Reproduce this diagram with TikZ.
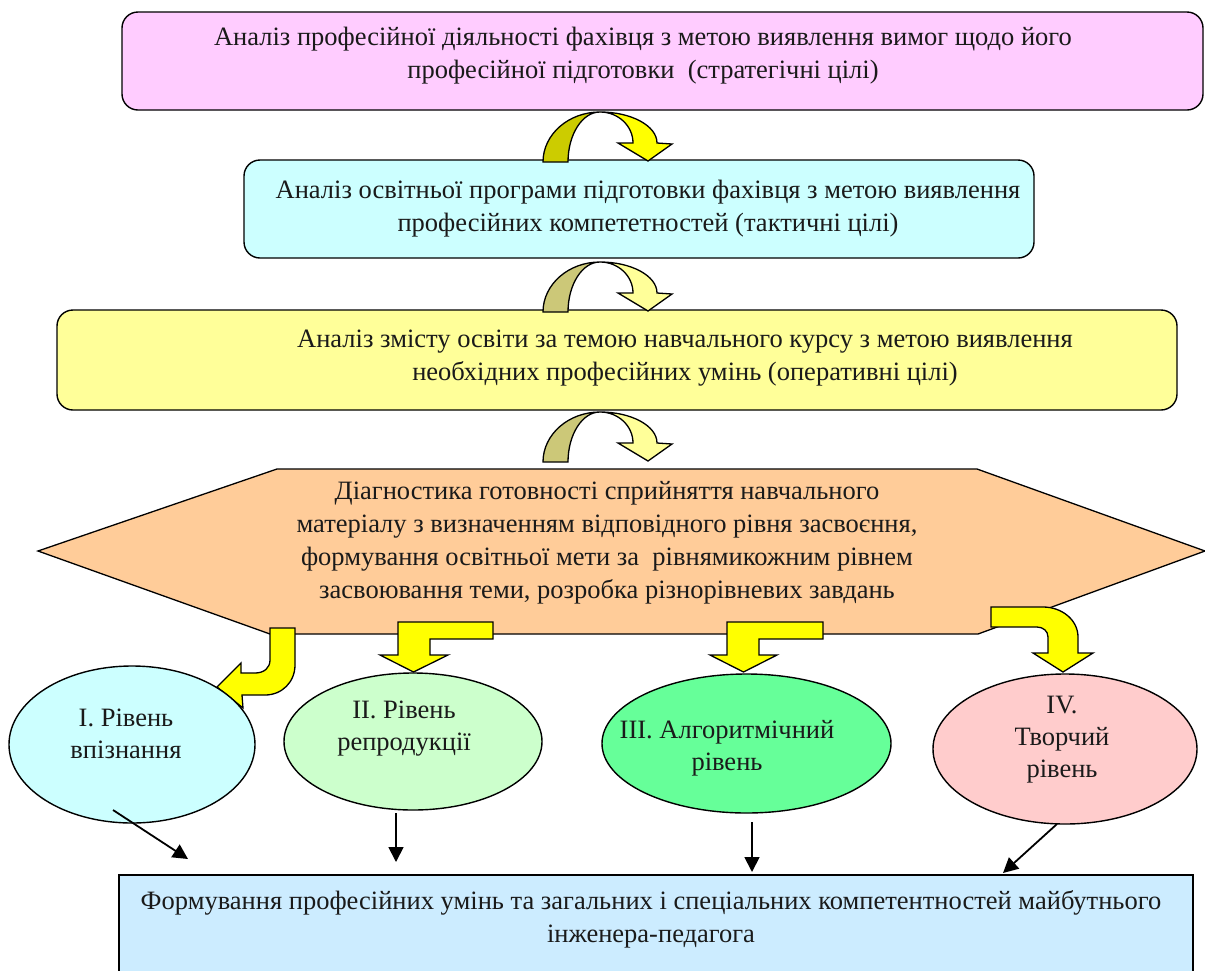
\documentclass[tikz,border=0pt]{standalone}
\usepackage{fontspec}
\setmainfont{Liberation Serif}
\usetikzlibrary{shapes.geometric,arrows.meta,calc}
\definecolor{cPink}{HTML}{FFCCFF}
\definecolor{cCyan}{HTML}{CCFFFF}
\definecolor{cLYel}{HTML}{FFFF99}
\definecolor{cHex}{HTML}{FFCC99}
\definecolor{cEa}{HTML}{CCFFFF}
\definecolor{cEb}{HTML}{CCFFCC}
\definecolor{cEc}{HTML}{66FF99}
\definecolor{cEd}{HTML}{FFCCCC}
\definecolor{cBot}{HTML}{CCECFF}
\definecolor{cYel}{HTML}{FFFF00}
\definecolor{cOlive}{HTML}{CCCC00}
\definecolor{cKhaki}{HTML}{CCC878}
\definecolor{cTxt}{HTML}{1A1A1A}
\newcommand{\mkCurveArrow}[3]{%
  \begin{scope}[shift={(0,#1)}]
    \filldraw[blk,fill=#2] (543,162) .. controls (543,134.4) and (568.5,112) .. (600,112)
      .. controls (582.3,112) and (568,134.4) .. (568,162) -- cycle;
    \filldraw[blk,fill=#3] (600,112) .. controls (631.5,112) and (657,125.9) .. (657,143)
      -- (672,144) -- (648,161) -- (618,143) -- (633,143)
      .. controls (633,125.9) and (618.2,112) .. (600,112) -- cycle;
  \end{scope}}
\begin{document}
\begin{tikzpicture}[x=1pt,y=-1pt,
  box/.style={draw=black,line width=1.4pt,rounded corners=16pt,inner sep=0pt},
  sqbox/.style={draw=black,line width=1.4pt,inner sep=0pt},
  lbl/.style={align=center,font=\fontsize{26.5}{33}\selectfont,inner sep=0pt,text=cTxt},
  elbl/.style={align=center,font=\fontsize{26.5}{32}\selectfont,inner sep=0pt,text=cTxt},
  lvl/.style={draw=black,line width=1.4pt,ellipse,inner sep=0pt},
  blk/.style={draw=black,line width=1.3pt,line join=miter},
  conn/.style={line width=1.8pt,-{Triangle[length=15pt,width=15pt]}}
]
\useasboundingbox (0,0) rectangle (1205,970);
\clip (0,0) rectangle (1205,970);
\fill[white] (0,0) rectangle (1205,970);

% boxes
\node[box,fill=cPink,minimum width=1081pt,minimum height=98pt] (b1) at (662.5,61) {};
\node[box,fill=cCyan,minimum width=790pt,minimum height=98pt] (b2) at (639,209) {};
\node[box,fill=cLYel,minimum width=1120pt,minimum height=100pt] (b3) at (617,360) {};
\node[lbl] (t1) at (643,56) {Аналіз професійної діяльності фахівця з метою виявлення вимог щодо його\\професійної підготовки\ \ (стратегічні цілі)};
\node[lbl] (t2) at (648,209) {Аналіз освітньої програми підготовки фахівця з метою виявлення\\професійних компететностей (тактичні цілі)};
\node[lbl] (t3) at (685,358) {Аналіз змісту освіти за темою навчального курсу з метою виявлення\\необхідних професійних умінь (оперативні цілі)};

% curved arrows
\mkCurveArrow{0}{cOlive}{cYel}
\mkCurveArrow{150}{cKhaki}{cLYel}
\mkCurveArrow{300}{cKhaki}{cLYel}

% hexagon
\draw[blk,fill=cHex] (38,551) -- (277,469) -- (977,469) -- (1205,551) -- (978,634) -- (270,634) -- cycle;
\node[lbl] (th) at (607,543) {Діагностика готовності сприйняття навчального\\матеріалу з визначенням відповідного рівня засвоєння,\\формування освітньої мети за\ \ рівнямикожним рівнем\\засвоювання теми, розробка різнорівневих завдань};

% yellow block arrows
\filldraw[blk,fill=cYel] (270,628) -- (270,660) .. controls (270,668) and (264,673) .. (255,673)
  -- (241,673) -- (241,663) -- (217,687) -- (243,708) -- (242,695) -- (265,695)
  .. controls (282,695) and (295,682) .. (295,665) -- (295,628) -- cycle;
\filldraw[blk,fill=cYel] (493,622) -- (493,639) -- (430,639) -- (430,655) -- (448,655)
  -- (413.5,672) -- (380,655) -- (398,655) -- (398,622) -- cycle;
\filldraw[blk,fill=cYel] (823,622) -- (823,639) -- (759,639) -- (759,655) -- (777,655)
  -- (743.5,672) -- (710,655) -- (727,655) -- (727,622) -- cycle;
\filldraw[blk,fill=cYel] (991,607) -- (1043,607) .. controls (1062,607) and (1078,620) .. (1078,637)
  -- (1078,653) -- (1093,653) -- (1063,672) -- (1033,653) -- (1048,653) -- (1048,637)
  .. controls (1048,631) and (1043,627) .. (1037,627) -- (991,627) -- cycle;

% level ellipses
\node[lvl,fill=cEa,minimum width=246pt,minimum height=157pt] (e1) at (132,744.5) {};
\node[lvl,fill=cEb,minimum width=258pt,minimum height=137pt] (e2) at (413,741.5) {};
\node[lvl,fill=cEc,minimum width=289pt,minimum height=139pt] (e3) at (746.5,743.5) {};
\node[lvl,fill=cEd,minimum width=264pt,minimum height=150pt] (e4) at (1065,749) {};
\node[elbl] (te1) at (126,734) {I. Рівень\\впізнання};
\node[elbl] (te2) at (404,729) {II. Рівень\\репродукції};
\node[elbl] (te3) at (727,748) {III. Алгоритмічний\\рівень};
\node[elbl] (te4) at (1062,740) {IV.\\Творчий\\рівень};

% result box
\node[sqbox,fill=cBot,minimum width=1074pt,minimum height=125pt] (bb) at (656,937.5) {};
\node[lbl] (tb) at (651,919) {Формування професійних умінь та загальних і спеціальних компетентностей майбутнього\\інженера-педагога};

% connectors
\coordinate (c1s) at (113,810); \coordinate (c1e) at (188,859);
\coordinate (c2s) at (396,813); \coordinate (c2e) at (396,862);
\coordinate (c3s) at (752,822); \coordinate (c3e) at (752,872);
\coordinate (c4s) at (1057,824); \coordinate (c4e) at (1003,873);
\draw[conn] (c1s) -- (c1e);
\draw[conn] (c2s) -- (c2e);
\draw[conn] (c3s) -- (c3e);
\draw[conn] (c4s) -- (c4e);
\end{tikzpicture}
\end{document}
